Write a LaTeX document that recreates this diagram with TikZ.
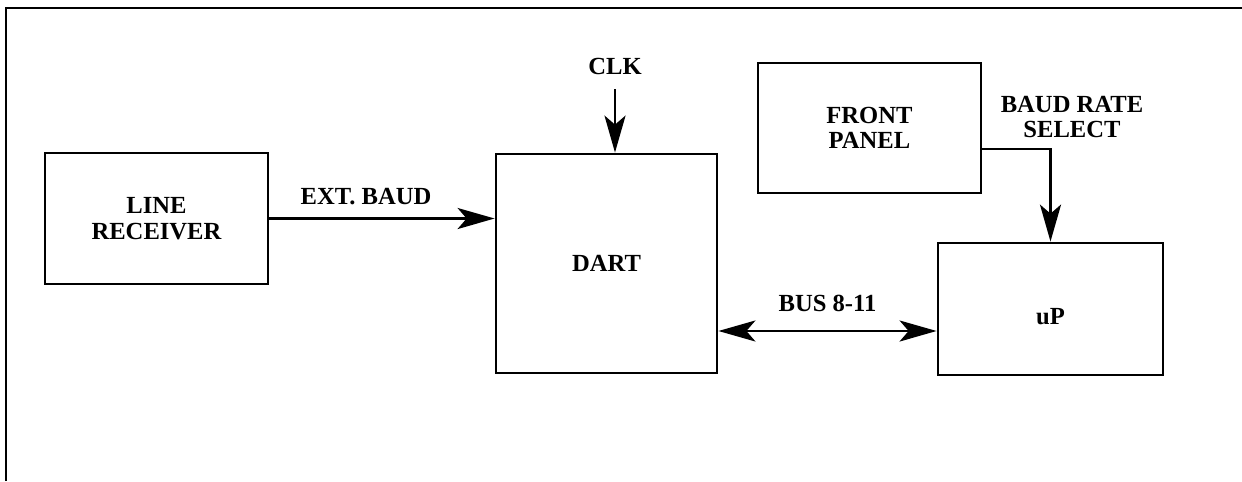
\documentclass[tikz,border=0pt]{standalone}
\usepackage{fontspec}
\setmainfont{Liberation Serif}
\usetikzlibrary{positioning, arrows.meta}

\begin{document}
\begin{tikzpicture}[
    x=0.02cm, y=-0.02cm,
    >={Stealth[length=7.4mm, width=4.2mm, inset=1.8mm]},
    block/.style={draw, line width=1.6pt, minimum width=4.46cm, minimum height=2.62cm,
                  inner sep=0pt, align=center, font=\bfseries\fontsize{14}{14.5}\selectfont},
    siglabel/.style={font=\bfseries\fontsize{14}{14}\selectfont, align=center, inner sep=1pt},
    wire/.style={line width=1.6pt},
]
\useasboundingbox (0,0) rectangle (1242,481);

% ============================================================
% Frame (top and left edge only)
% ============================================================
\draw[line width=1.7pt] (6,481) -- (6,8) -- (1242,8);

% ============================================================
% Blocks
% ============================================================
\node[block] (linerx) at (156.5,218.5) {LINE\\RECEIVER};
\node[block, minimum width=4.42cm, minimum height=4.38cm] (dart) at (606.5,263.5) {DART};
\node[block, minimum height=2.6cm] (panel) at (869.5,128) {FRONT\\PANEL};
\node[block, minimum width=4.5cm, minimum height=2.64cm, text height=0.6cm, text depth=0pt] (up) at (1050.5,309) {uP};

% ============================================================
% Signals
% ============================================================
\node[siglabel] (clk) at (615,66) {CLK};
\draw[wire, ->, shorten <=0.26cm] (clk.south) -- (clk.south |- dart.north);

\draw[wire, ->] (linerx.east) -- (linerx.east -| dart.west)
    node[siglabel, midway, above=6pt, xshift=-0.32cm] (extbaud) {EXT.\ BAUD};

\coordinate (busr) at ([yshift=-0.44cm]up.west);
\draw[wire, <->] (busr -| dart.east) -- (busr)
    node[siglabel, midway, above=9pt] (bus) {BUS 8-11};

\coordinate (fpout) at ([yshift=-0.42cm]panel.east);
\draw[wire, ->] (fpout) -| (up.north);
\node[siglabel] (baudsel) at (1072,117) {BAUD RATE\\SELECT};

\end{tikzpicture}
\end{document}
